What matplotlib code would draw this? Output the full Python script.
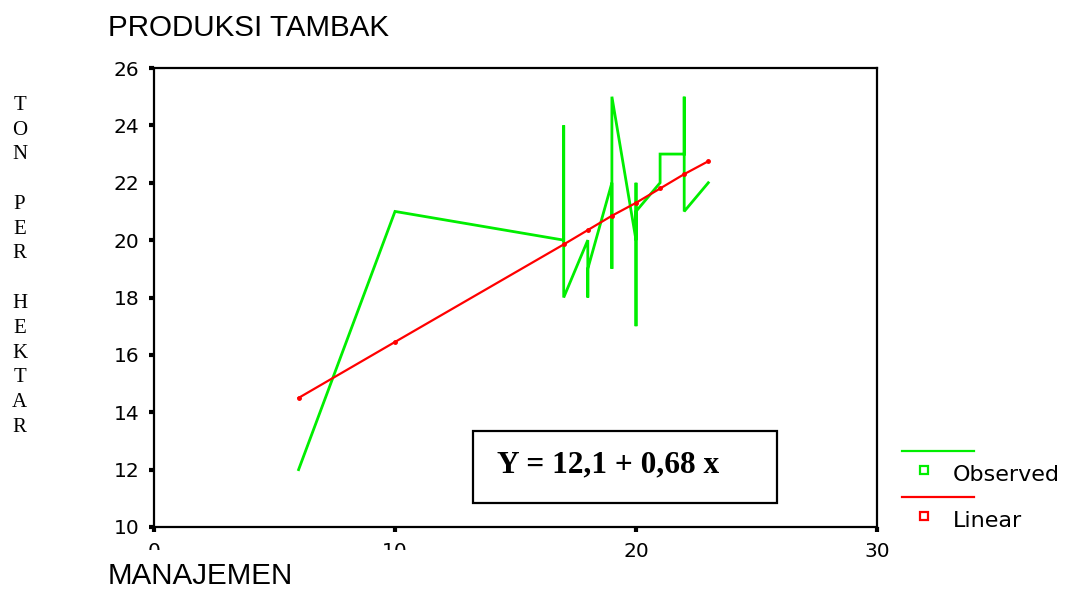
import matplotlib
matplotlib.use('Agg')
import matplotlib.pyplot as plt
from matplotlib.lines import Line2D
from matplotlib.patches import Rectangle

# ---- data ----
manajemen = [6, 10, 17, 17, 17, 18, 18, 18, 19, 19, 19, 20, 20, 20, 20, 21, 21, 22, 22, 22, 23]
produksi = [12, 21, 20, 24, 18, 20, 18, 19, 22, 19, 25, 20, 22, 17, 21, 22, 23, 23, 25, 21, 22]
linear_x = [6, 10, 17, 18, 19, 20, 21, 22, 23]
linear_y = [14.5, 16.45, 19.85, 20.35, 20.85, 21.3, 21.8, 22.3, 22.75]
x_ticks = [0, 10, 20, 30]
y_ticks = [10, 12, 14, 16, 18, 20, 22, 24, 26]
title = "PRODUKSI TAMBAK"
x_label = "MANAJEMEN"
y_label = "TON PER HEKTAR"
equation = "Y = 12,1 + 0,68 x"
legend_labels = ["Observed", "Linear"]

GREEN = '#00EE00'
RED = '#FF0000'
W, H = 1089, 589

fig = plt.figure(figsize=(W / 100, H / 100), dpi=100)
fig.patch.set_facecolor('white')

def fx(px):
    return px / W

def fy(py):
    return 1 - py / H

ax = fig.add_axes([fx(154), fy(527), (877 - 154) / W, (527 - 68) / H])
ax.plot(manajemen, produksi, color=GREEN, lw=2.0, solid_joinstyle='miter', zorder=2)
ax.plot(linear_x, linear_y, color=RED, lw=1.6, marker='o', markersize=2.5, zorder=3)

ax.set_xlim(0, 30)
ax.set_ylim(10, 26)
ax.set_xticks(x_ticks)
ax.set_yticks(y_ticks)
ax.tick_params(direction='out', length=3.5, width=3, pad=7, labelsize=14.5, colors='black')
for lab in ax.get_xticklabels() + ax.get_yticklabels():
    lab.set_family('DejaVu Sans')
for sp in ax.spines.values():
    sp.set_linewidth(1.6)
    sp.set_color('black')

# title and x label
fig.text(fx(108), fy(36), title, family='Liberation Sans', fontsize=21.3, va='baseline', ha='left')

# white area hiding the lower part of the first tick labels (as in the reference)
fig.patches.append(Rectangle((fx(95), 0), fx(430) - fx(95), fy(550), transform=fig.transFigure,
                             facecolor='white', edgecolor='none', zorder=2))
fig.text(fx(108), fy(584), x_label, family='Liberation Sans', fontsize=21.3, va='baseline', ha='left', zorder=3)

# vertical stacked y label
for i, ch in enumerate(y_label):
    if ch != ' ':
        fig.text(fx(19.5), fy(110 + i * 24.75), ch, family='Liberation Serif', fontsize=15,
                 ha='center', va='baseline')

# equation box
fig.patches.append(Rectangle((fx(473), fy(503)), fx(777) - fx(473), fy(431) - fy(503),
                             transform=fig.transFigure, facecolor='white', edgecolor='black',
                             lw=1.6, zorder=2))
fig.text(fx(497), fy(472), equation, family='Liberation Serif', fontweight='bold', fontsize=22.6,
         va='baseline', ha='left', zorder=3)

# legend (outside the axes, on the right)
for color, label, ly, my, ty in [(GREEN, legend_labels[0], 451, 470, 481),
                                  (RED, legend_labels[1], 497, 516, 527)]:
    fig.lines.append(Line2D([fx(902), fx(974)], [fy(ly), fy(ly)], transform=fig.transFigure,
                            color=color, lw=1.6))
    fig.lines.append(Line2D([fx(924)], [fy(my)], transform=fig.transFigure, marker='s',
                            markersize=6, markerfacecolor='white', markeredgecolor=color,
                            markeredgewidth=1.6, linestyle='none'))
    fig.text(fx(953), fy(ty), label, family='DejaVu Sans', fontsize=16, va='baseline', ha='left')

fig.savefig('out.png', dpi=100)
